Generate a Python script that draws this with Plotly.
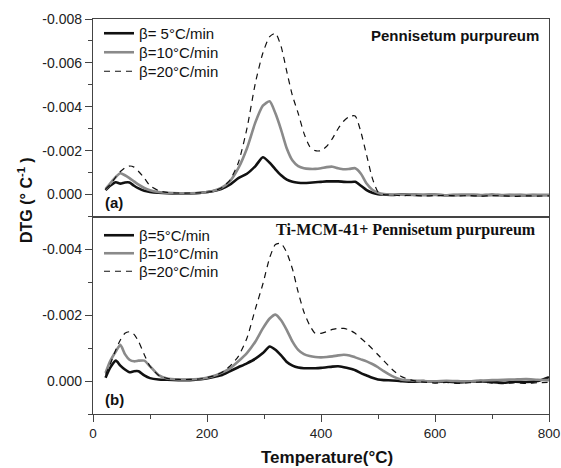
import plotly.graph_objects as go

# Temperature grid (°C)
temp = [22, 30, 40, 48, 56, 64, 72, 80, 90, 100, 115, 130, 150, 170, 190, 210, 225, 240, 255, 270,
        285, 298, 310, 320, 330, 340, 350, 360, 370, 380, 390, 400, 410, 420, 430, 440, 450, 460, 470,
        480, 490, 500, 510, 525, 540, 560, 580, 600, 620, 640, 660, 680, 700, 720, 740, 760, 780, 800]

# DTG values in units of 1e-3 °C^-1 (negative = mass loss)
# (a) Pennisetum purpureum
a_5 = [-0.2, -0.4, -0.56, -0.5, -0.55, -0.55, -0.4, -0.28, -0.17, -0.12, -0.08, -0.06, -0.05, -0.05,
       -0.08, -0.15, -0.25, -0.45, -0.75, -0.95, -1.3, -1.7, -1.45, -1.15, -0.88, -0.68, -0.58, -0.54,
       -0.53, -0.54, -0.56, -0.58, -0.6, -0.6, -0.6, -0.58, -0.57, -0.58, -0.4, -0.2, -0.08, -0.02, 0.0,
       0.02, 0.0, 0.01, 0.02, 0.01, 0.03, 0.02, 0.02, 0.03, 0.01, 0.03, 0.02, 0.03, 0.02, 0.02]
a_10 = [-0.25, -0.5, -0.8, -0.97, -0.88, -0.75, -0.6, -0.45, -0.3, -0.2, -0.12, -0.08, -0.06, -0.06,
        -0.08, -0.16, -0.3, -0.6, -1.2, -2.1, -3.3, -4.05, -4.25, -3.7, -2.95, -2.1, -1.55, -1.3, -1.2,
        -1.17, -1.17, -1.2, -1.25, -1.27, -1.2, -1.15, -1.17, -1.2, -0.95, -0.5, -0.22, -0.08, -0.02,
        0.0, 0.01, 0.02, 0.01, 0.02, 0.03, 0.02, 0.01, 0.02, 0.03, 0.02, 0.03, 0.02, 0.03, 0.03]
a_20 = [-0.25, -0.45, -0.8, -1.05, -1.22, -1.3, -1.25, -1.05, -0.75, -0.4, -0.18, -0.1, -0.07, -0.07,
        -0.08, -0.15, -0.3, -0.65, -1.45, -3.0, -5.1, -6.45, -7.2, -7.35, -6.75, -5.6, -4.5, -3.7, -2.8,
        -2.2, -2.0, -2.0, -2.2, -2.55, -3.0, -3.35, -3.56, -3.58, -2.85, -1.8, -0.75, -0.12, 0.0,
        0.02, 0.05, 0.03, 0.06, 0.05, 0.04, 0.06, 0.05, 0.07, 0.05, 0.06, 0.08, 0.06, 0.07, 0.06]

# (b) Ti-MCM-41 + Pennisetum purpureum
b_5 = [-0.1, -0.4, -0.62, -0.47, -0.35, -0.27, -0.3, -0.3, -0.17, -0.09, -0.05, -0.04, -0.03, -0.03,
       -0.06, -0.12, -0.18, -0.3, -0.42, -0.54, -0.68, -0.85, -1.05, -0.95, -0.78, -0.58, -0.47, -0.41,
       -0.39, -0.39, -0.39, -0.4, -0.42, -0.44, -0.45, -0.42, -0.38, -0.33, -0.24, -0.17, -0.1, -0.05,
       -0.03, -0.02, 0.0, 0.02, 0.0, 0.03, 0.01, 0.04, 0.02, 0.0, 0.03, 0.05, 0.02, 0.03, 0.0, -0.12]
b_10 = [-0.25, -0.6, -0.9, -1.1, -0.82, -0.65, -0.6, -0.62, -0.62, -0.45, -0.18, -0.08, -0.05, -0.05,
        -0.07, -0.15, -0.25, -0.38, -0.6, -0.85, -1.2, -1.6, -1.9, -2.02, -1.85, -1.55, -1.2, -0.95,
        -0.82, -0.76, -0.73, -0.72, -0.73, -0.75, -0.78, -0.8, -0.78, -0.72, -0.66, -0.6, -0.52, -0.42,
        -0.3, -0.15, -0.05, -0.02, 0.0, 0.01, -0.01, 0.0, 0.01, -0.02, -0.03, -0.04, -0.05, -0.06, -0.04, -0.03]
b_20 = [-0.2, -0.5, -0.95, -1.25, -1.45, -1.5, -1.42, -1.2, -0.8, -0.45, -0.18, -0.08, -0.05, -0.05,
        -0.07, -0.15, -0.25, -0.45, -0.75, -1.3, -2.2, -2.95, -3.75, -4.15, -4.18, -3.9, -3.4, -2.7,
        -2.1, -1.7, -1.45, -1.45, -1.5, -1.57, -1.6, -1.6, -1.55, -1.45, -1.3, -1.15, -0.98, -0.8,
        -0.62, -0.35, -0.15, -0.02, 0.03, 0.06, 0.04, 0.07, 0.05, 0.03, 0.06, 0.08, 0.05, 0.07, 0.05, 0.04]

series_names_a = ["\u03b2= 5\u00b0C/min", "\u03b2=10\u00b0C/min", "\u03b2=20\u00b0C/min"]
series_names_b = ["\u03b2=5\u00b0C/min", "\u03b2=10\u00b0C/min", "\u03b2=20\u00b0C/min"]

ytick_vals_a = [0, -2, -4, -6, -8]
ytick_text_a = ["0.000", "-0.002", "-0.004", "-0.006", "-0.008"]
ytick_vals_b = [0, -2, -4]
ytick_text_b = ["0.000", "-0.002", "-0.004"]
xtick_vals = [0, 200, 400, 600, 800]

styles = [dict(color="#111111", width=2.6),
          dict(color="#8a8a8a", width=2.6),
          dict(color="#111111", width=1.2, dash="6px,5px")]

# plot-area geometry in window pixels
FW, FH = 561, 468
L, R, T, B = 93, 549, 19, 414
W_PLOT, H_PLOT = R - L, B - T


def px(xw):
    return (xw - L) / W_PLOT


def py(yw):
    return (B - yw) / H_PLOT


fig = go.Figure()
legend_rows_a = [33, 52, 71]
legend_rows_b = [235, 253, 271]
legend_layout = {}
legfont = dict(family="Arial, Liberation Sans, sans-serif", size=15, color="#111")
for i, (name, ys, st) in enumerate(zip(series_names_a, [a_5, a_10, a_20], styles)):
    key = "legend" if i == 0 else f"legend{i + 1}"
    fig.add_trace(go.Scatter(x=temp, y=ys, mode="lines", name=name,
                             line=dict(shape="spline", smoothing=0.6, **st),
                             xaxis="x2", yaxis="y", legend=key))
    legend_layout[key] = dict(x=px(99), y=py(legend_rows_a[i] - 16), xanchor="left", yanchor="top",
                              bgcolor="rgba(0,0,0,0)", font=legfont, itemwidth=30)
for i, (name, ys, st) in enumerate(zip(series_names_b, [b_5, b_10, b_20], styles)):
    key = f"legend{i + 4}"
    fig.add_trace(go.Scatter(x=temp, y=ys, mode="lines", name=name,
                             line=dict(shape="spline", smoothing=0.6, **st),
                             xaxis="x", yaxis="y2", legend=key))
    legend_layout[key] = dict(x=px(99), y=py(legend_rows_b[i] - 16), xanchor="left", yanchor="top",
                              bgcolor="rgba(0,0,0,0)", font=legfont, itemwidth=30)

font_ytick = dict(family="Arial, Liberation Sans, sans-serif", size=14, color="#222")
font_xtick = dict(family="Arial, Liberation Sans, sans-serif", size=13.5, color="#222")
linecol = "#444"

fig.update_layout(
    width=FW, height=FH,
    margin=dict(l=L, r=FW - R, t=T, b=FH - B, autoexpand=False),
    paper_bgcolor="white", plot_bgcolor="white",
    showlegend=True,
    xaxis=dict(domain=[0, 1], anchor="y2", range=[0, 800], tickvals=xtick_vals, ticks="outside", ticklen=7,
               tickwidth=1.2, tickcolor=linecol, showline=True, linecolor=linecol, linewidth=1.3, mirror=True,
               showgrid=False, zeroline=False, tickfont=font_xtick, automargin=False,
               minor=dict(ticks="outside", ticklen=4, dtick=100, tick0=0, tickcolor=linecol, showgrid=False)),
    xaxis2=dict(domain=[0, 1], anchor="y", matches="x", range=[0, 800], showticklabels=False, ticks="",
                showline=True, linecolor=linecol, linewidth=1.3, mirror=True, showgrid=False, zeroline=False,
                automargin=False),
    yaxis=dict(domain=[0.5, 1], anchor="x2", range=[1, -8], tickvals=ytick_vals_a, ticktext=ytick_text_a,
               ticks="outside", ticklen=7, tickwidth=1.2, tickcolor=linecol, showline=True, linecolor=linecol,
               linewidth=1.3, mirror=True, showgrid=False, zeroline=False, tickfont=font_ytick, automargin=False,
               minor=dict(ticks="outside", ticklen=4, dtick=1, tick0=0, tickcolor=linecol, showgrid=False)),
    yaxis2=dict(domain=[0, 0.5], anchor="x", range=[1, -5], tickvals=ytick_vals_b, ticktext=ytick_text_b,
                ticks="outside", ticklen=7, tickwidth=1.2, tickcolor=linecol, showline=True, linecolor=linecol,
                linewidth=1.3, mirror=True, showgrid=False, zeroline=False, tickfont=font_ytick, automargin=False,
                minor=dict(ticks="outside", ticklen=4, dtick=1, tick0=0, tickcolor=linecol, showgrid=False)),
    annotations=[
        dict(text="<b>Pennisetum purpureum</b>", xref="paper", yref="paper", x=px(541), y=py(35),
             xanchor="right", yanchor="middle", showarrow=False,
             font=dict(family="Arial, Liberation Sans, sans-serif", size=15, color="#111")),
        dict(text="<b>Ti-MCM-41+ Pennisetum purpureum</b>", xref="paper", yref="paper", x=px(538), y=py(230),
             xanchor="right", yanchor="middle", showarrow=False,
             font=dict(family="Times New Roman, Liberation Serif, serif", size=16, color="#111")),
        dict(text="<b>(a)</b>", xref="paper", yref="paper", x=px(103), y=py(202), xanchor="left",
             yanchor="middle", showarrow=False,
             font=dict(family="Arial, Liberation Sans, sans-serif", size=15, color="#111")),
        dict(text="<b>(b)</b>", xref="paper", yref="paper", x=px(103), y=py(399), xanchor="left",
             yanchor="middle", showarrow=False,
             font=dict(family="Arial, Liberation Sans, sans-serif", size=15, color="#111")),
        dict(text="<b>Temperature(\u00b0C)</b>", xref="paper", yref="paper", x=px(327), y=py(458),
             xanchor="center", yanchor="middle", showarrow=False,
             font=dict(family="Arial, Liberation Sans, sans-serif", size=17, color="#111")),
        dict(text="<b>DTG (\u00b0 C<sup>-1</sup> )</b>", xref="paper", yref="paper", x=px(25),
             y=py(200), xanchor="center", yanchor="middle", textangle=-90, showarrow=False,
             font=dict(family="Arial, Liberation Sans, sans-serif", size=16, color="#111")),
    ],
    **legend_layout,
)

fig.write_html("out.html", config={"displayModeBar": False},
               post_script="document.body.style.margin='0px';document.body.style.overflow='hidden';")
